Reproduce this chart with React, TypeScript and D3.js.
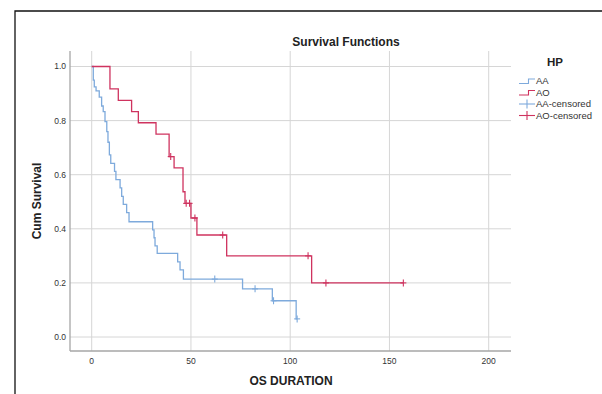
import React from "react";
import * as d3 from "d3";

// ---- data ----
const xTicks = [0, 50, 100, 150, 200];
const yTicks = [0, 0.2, 0.4, 0.6, 0.8, 1.0];

const aaEventTimes = [0.8, 1.3, 2.2, 3.8, 5.0, 5.8, 6.7, 7.6, 8.2, 8.9, 9.6, 11.5, 12.2, 14.3, 15.1, 15.9, 17.6, 18.8, 30.7, 31.4, 31.9, 33.0, 43.3, 44.5, 46.2, 76.0, 91.0, 103.0];
const aaSurvival = [0.95, 0.925, 0.91, 0.887, 0.854, 0.833, 0.796, 0.759, 0.72, 0.673, 0.642, 0.612, 0.582, 0.551, 0.52, 0.49, 0.46, 0.426, 0.396, 0.367, 0.337, 0.309, 0.278, 0.248, 0.214, 0.178, 0.134, 0.067];
const aaCensored = [62.0, 82.3, 91.6, 103.5];

const aoEventTimes = [9.2, 13.4, 20.1, 23.5, 32.4, 39.0, 41.5, 46.0, 47.0, 50.0, 53.0, 68.0, 110.8];
const aoSurvival = [0.917, 0.875, 0.833, 0.792, 0.75, 0.667, 0.625, 0.537, 0.494, 0.44, 0.377, 0.3, 0.2];
const aoCensored = [39.8, 47.6, 49.3, 52.0, 66.0, 109.0, 118.0, 157.0];

const legendLabels = ["AA", "AO", "AA-censored", "AO-censored"];

const BLUE = "#7eaadc";
const RED = "#cf335f";
const FONT = "'Liberation Sans', Arial, sans-serif";

const W = 602;
const H = 394;

const x = d3.scaleLinear().domain([0, 200]).range([91.7, 488.7]);
const y = d3.scaleLinear().domain([0, 1]).range([337, 66.5]);

function survAt(times: number[], surv: number[], t: number) {
  let s = 1;
  for (let i = 0; i < times.length; i++) if (times[i] <= t) s = surv[i];
  return s;
}

function stepPoints(times: number[], surv: number[], censored: number[]) {
  const end = Math.max(times[times.length - 1], ...censored);
  const pts: [number, number][] = [[0, 1]];
  times.forEach((t, i) => pts.push([t, surv[i]]));
  pts.push([end, surv[surv.length - 1]]);
  return pts;
}

const line = d3
  .line<[number, number]>()
  .x((d) => x(d[0]))
  .y((d) => y(d[1]))
  .curve(d3.curveStepAfter);

function Censor({ cx, cy, color }: { cx: number; cy: number; color: string }) {
  return (
    <g stroke={color} strokeWidth={1.1}>
      <line x1={cx - 3} x2={cx + 3} y1={cy} y2={cy} />
      <line x1={cx} x2={cx} y1={cy - 3.5} y2={cy + 3.5} />
    </g>
  );
}

export default function App() {
  const plotL = 70;
  const plotR = 511;
  const plotT = 51;
  const plotB = 351;
  const series = [
    { times: aaEventTimes, surv: aaSurvival, cens: aaCensored, color: BLUE },
    { times: aoEventTimes, surv: aoSurvival, cens: aoCensored, color: RED },
  ];
  const legendY = [81, 92.5, 104, 115.5];
  return (
    <svg
      width={W}
      height={H}
      style={{ position: "absolute", left: 0, top: 0, background: "#fff" }}
      fontFamily={FONT}
    >
      <rect x={0} y={0} width={W} height={H} fill="#fff" />
      {/* frame */}
      <path d={`M15,${H + 2} V11 H${W + 2}`} fill="none" stroke="#111" strokeWidth={1.3} />

      {/* gridlines */}
      {yTicks.map((t) => (
        <line key={"hy" + t} x1={plotL} x2={plotR} y1={y(t)} y2={y(t)} stroke="#d6d6d6" strokeWidth={1} />
      ))}
      {xTicks.map((t) => (
        <line key={"vx" + t} x1={x(t)} x2={x(t)} y1={plotT} y2={plotB} stroke="#d6d6d6" strokeWidth={1} />
      ))}

      {/* axes */}
      <line x1={plotL} x2={plotL} y1={plotT} y2={plotB} stroke="#a6a6a6" strokeWidth={1.3} />
      <line x1={plotL} x2={plotR} y1={plotB} y2={plotB} stroke="#a6a6a6" strokeWidth={1.3} />

      {yTicks.map((t) => (
        <text key={"yl" + t} x={66} y={y(t)} dy="0.35em" textAnchor="end" fontSize={8.5} fill="#333">
          {d3.format(".1f")(t)}
        </text>
      ))}
      {xTicks.map((t) => (
        <text key={"xl" + t} x={x(t)} y={361} dy="0.35em" textAnchor="middle" fontSize={8.5} fill="#333">
          {t}
        </text>
      ))}

      {/* curves */}
      {series.map((s, i) => (
        <g key={"s" + i}>
          <path d={line(stepPoints(s.times, s.surv, s.cens)) || ""} fill="none" stroke={s.color} strokeWidth={1.3} />
          {s.cens.map((c, j) => (
            <Censor key={j} cx={x(c)} cy={y(survAt(s.times, s.surv, c))} color={s.color} />
          ))}
        </g>
      ))}

      {/* titles */}
      <text x={346} y={42} dy="0.35em" textAnchor="middle" fontSize={12} fontWeight="bold" fill="#222">
        Survival Functions
      </text>
      <text x={291} y={381} dy="0.35em" textAnchor="middle" fontSize={12} fontWeight="bold" fill="#222">
        OS DURATION
      </text>
      <text
        transform={`translate(37,${(plotT + plotB) / 2}) rotate(-90)`}
        dy="0.35em"
        textAnchor="middle"
        fontSize={12}
        fontWeight="bold"
        fill="#222"
      >
        Cum Survival
      </text>

      {/* legend */}
      <text x={555} y={62} dy="0.35em" textAnchor="middle" fontSize={11.5} fontWeight="bold" fill="#222">
        HP
      </text>
      {legendLabels.map((lab, i) => {
        const ly = legendY[i];
        const color = i % 2 === 0 ? BLUE : RED;
        const censored = i >= 2;
        return (
          <g key={lab}>
            {censored ? (
              <g stroke={color} strokeWidth={1.1}>
                <line x1={519} x2={535} y1={ly} y2={ly} />
                <line x1={527} x2={527} y1={ly - 4.5} y2={ly + 4.5} />
              </g>
            ) : (
              <path
                d={`M519,${ly + 2.5} H528.5 V${ly - 2} H535`}
                fill="none"
                stroke={color}
                strokeWidth={1.1}
              />
            )}
            <text x={536} y={ly} dy="0.35em" fontSize={9.5} fill="#333">
              {lab}
            </text>
          </g>
        );
      })}
    </svg>
  );
}
